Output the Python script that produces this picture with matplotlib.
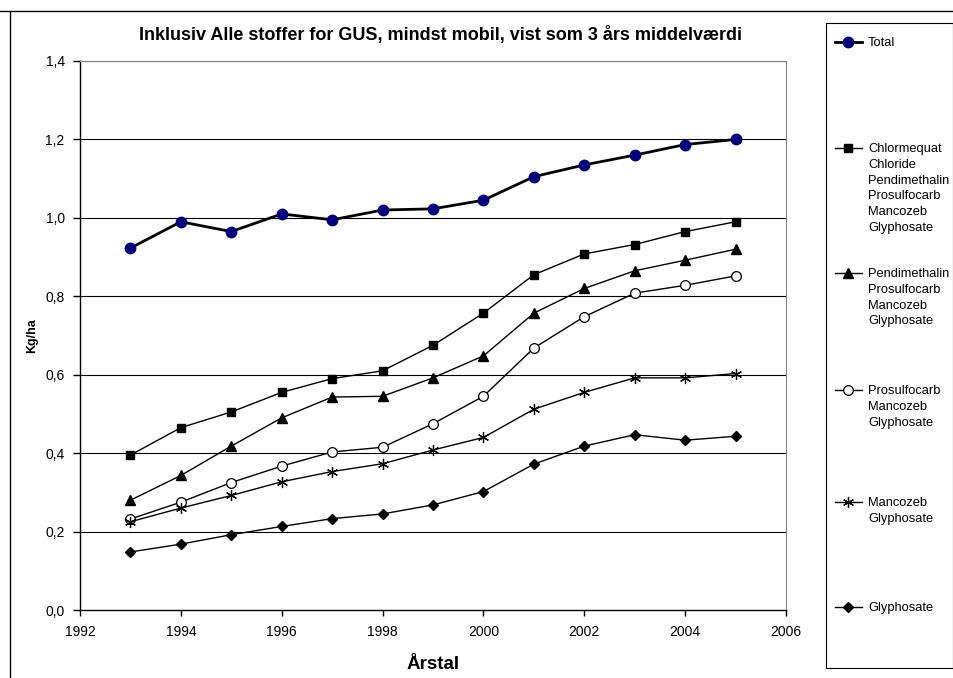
import matplotlib
matplotlib.use("Agg")
import matplotlib.pyplot as plt
from matplotlib.lines import Line2D

plt.rcParams['font.family'] = ['Liberation Sans', 'DejaVu Sans']

years = [1993, 1994, 1995, 1996, 1997, 1998, 1999, 2000, 2001, 2002, 2003, 2004, 2005]
total = [0.923, 0.990, 0.965, 1.010, 0.995, 1.020, 1.023, 1.045, 1.105, 1.135, 1.160, 1.187, 1.200]
chlormequat = [0.395, 0.465, 0.505, 0.555, 0.590, 0.610, 0.675, 0.757, 0.855, 0.908, 0.932, 0.965, 0.990]
pendimethalin = [0.280, 0.343, 0.418, 0.490, 0.543, 0.545, 0.592, 0.648, 0.757, 0.820, 0.865, 0.892, 0.920]
prosulfocarb = [0.232, 0.275, 0.325, 0.367, 0.403, 0.415, 0.475, 0.545, 0.668, 0.748, 0.808, 0.828, 0.852]
mancozeb = [0.225, 0.260, 0.292, 0.327, 0.353, 0.373, 0.408, 0.440, 0.512, 0.555, 0.592, 0.592, 0.603]
glyphosate = [0.148, 0.168, 0.192, 0.213, 0.233, 0.245, 0.268, 0.302, 0.372, 0.418, 0.447, 0.433, 0.443]

labels = ["Total",
          "Chlormequat\nChloride\nPendimethalin\nProsulfocarb\nMancozeb\nGlyphosate",
          "Pendimethalin\nProsulfocarb\nMancozeb\nGlyphosate",
          "Prosulfocarb\nMancozeb\nGlyphosate",
          "Mancozeb\nGlyphosate",
          "Glyphosate"]
title = "Inklusiv Alle stoffer for GUS, mindst mobil, vist som 3 års middelværdi"
xticks = [1992, 1994, 1996, 1998, 2000, 2002, 2004, 2006]
yticks = [0.0, 0.2, 0.4, 0.6, 0.8, 1.0, 1.2, 1.4]

W, H = 954, 678
fig = plt.figure(figsize=(W / 100, H / 100), dpi=100)
ax = fig.add_axes([80 / W, 1 - 610 / H, (786 - 80) / W, (610 - 61) / H])

styles = [
    dict(color='black', lw=2.0, marker='o', ms=7.5, mfc='#000080', mec='#000080'),
    dict(color='black', lw=1.0, marker='s', ms=6, mfc='black', mec='black'),
    dict(color='black', lw=1.0, marker='^', ms=7, mfc='black', mec='black'),
    dict(color='black', lw=1.0, marker='o', ms=7, mfc='white', mec='black', mew=0.9),
    dict(color='black', lw=1.0, marker=(6, 2, 0), ms=8, mfc='black', mec='black', mew=0.9),
    dict(color='black', lw=1.0, marker='D', ms=5.5, mfc='black', mec='black'),
]
series = [total, chlormequat, pendimethalin, prosulfocarb, mancozeb, glyphosate]
for s, st in zip(series, styles):
    ax.plot(years, s, clip_on=False, zorder=3, **st)

ax.set_xlim(1992, 2006)
ax.set_ylim(0, 1.4)
ax.set_xticks(xticks)
ax.set_xticklabels([str(x) for x in xticks], fontsize=10)
ax.set_yticks(yticks)
ax.set_yticklabels([f"{y:.1f}".replace('.', ',') for y in yticks], fontsize=10)
ax.tick_params(axis='x', direction='out', length=4, width=1, pad=7)
ax.tick_params(axis='y', direction='out', length=5, width=1, pad=6)
for y in yticks[1:]:
    ax.axhline(y, color='black', lw=0.8, zorder=1)
for sp in ['top', 'right']:
    ax.spines[sp].set_color('#808080')
    ax.spines[sp].set_linewidth(0.8)
for sp in ['left', 'bottom']:
    ax.spines[sp].set_linewidth(1.0)

ax.set_title(title, fontsize=13, fontweight='bold', pad=15, x=0.51)
ax.set_xlabel("Årstal", fontsize=13.5, fontweight='bold', labelpad=12)
ax.set_ylabel("Kg/ha", fontsize=9, fontweight='bold', labelpad=5)

# outer frame
fig.add_artist(Line2D([0, 1], [1 - 11 / H, 1 - 11 / H], transform=fig.transFigure, color='black', lw=1))
fig.add_artist(Line2D([10 / W, 10 / W], [0, 1 - 11 / H], transform=fig.transFigure, color='black', lw=1))

# legend box
lx0, lx1, ly0, ly1 = 826, 953, 23, 668
fig.add_artist(plt.Rectangle((lx0 / W, 1 - ly1 / H), (lx1 - lx0) / W, (ly1 - ly0) / H,
                             transform=fig.transFigure, fill=False, ec='black', lw=0.8))
entry_y = [42, 148, 273, 390, 502, 607]
for yy, lab, st in zip(entry_y, labels, styles):
    fy = 1 - yy / H
    fig.add_artist(Line2D([835 / W, 862 / W], [fy, fy], transform=fig.transFigure,
                          color='black', lw=st['lw'] if st['lw'] > 1.5 else 1.0))
    mst = {k: v for k, v in st.items() if k not in ('color', 'lw')}
    fig.add_artist(Line2D([848 / W], [fy], transform=fig.transFigure, ls='none', **mst))
    fig.text(868 / W, fy + 5 / H, lab, fontsize=9.3, va='top', ha='left', linespacing=1.42)

fig.savefig("out.png", dpi=100)
